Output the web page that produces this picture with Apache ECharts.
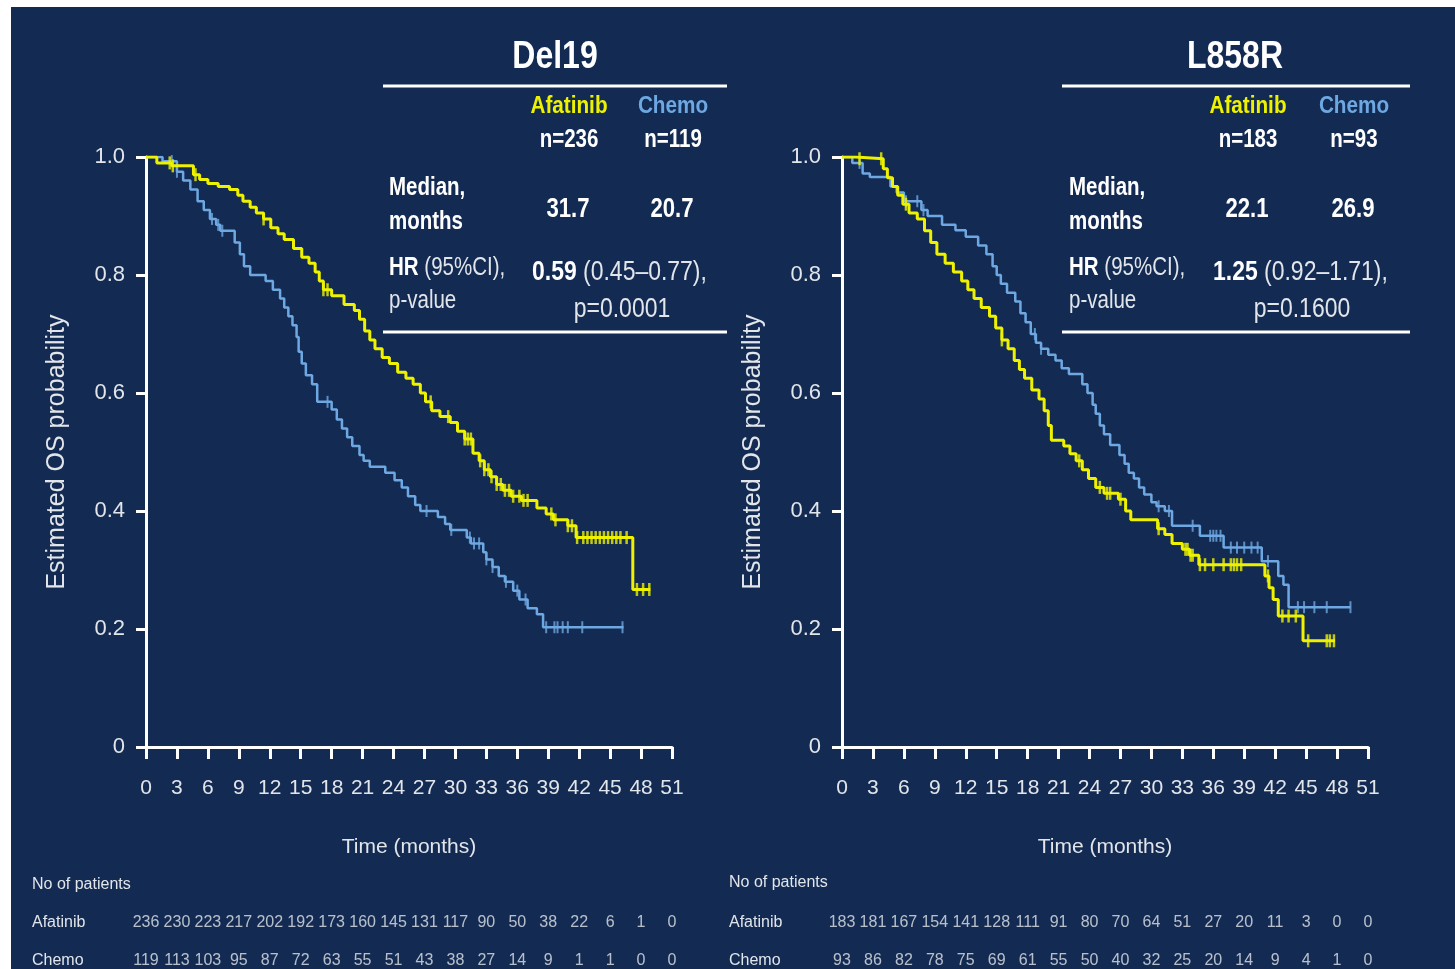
<!DOCTYPE html>
<html>
<head>
<meta charset="utf-8">
<script src="https://cdn.jsdelivr.net/npm/echarts@6/dist/echarts.min.js"></script>
<style>
  html, body { margin: 0; padding: 0; background: #ffffff; }
  #panel { position: absolute; left: 11px; top: 7px; right: 0; bottom: 0; background: #132b53; }
  #chart { position: absolute; left: 0; top: 0; width: 1455px; height: 969px; }
</style>
</head>
<body>
<div id="panel"></div>
<div id="chart"></div>
<script>
// ---- Kaplan-Meier estimates: [month, survival after the drop] ----
const del19Afatinib = [
  [0,1.0],[1.05,0.99],[2.5,0.985],[4.6,0.97],[5.2,0.962],[6.0,0.955],[7.0,0.95],[8.1,0.945],
  [8.9,0.935],[9.4,0.925],[10.1,0.915],[10.7,0.905],[11.4,0.895],[12.1,0.88],[12.8,0.87],
  [13.4,0.86],[14.3,0.845],[15.1,0.83],[15.8,0.82],[16.4,0.805],[16.8,0.79],[17.2,0.775],
  [18.0,0.765],[19.2,0.75],[20.2,0.74],[20.7,0.725],[21.2,0.705],[21.7,0.69],[22.2,0.675],
  [22.9,0.66],[23.6,0.65],[24.4,0.635],[25.2,0.625],[25.9,0.615],[26.6,0.6],[27.1,0.585],
  [27.7,0.57],[28.5,0.56],[29.5,0.55],[30.2,0.535],[30.9,0.522],[31.7,0.498],[32.3,0.485],
  [32.8,0.47],[33.4,0.458],[34.0,0.445],[34.6,0.435],[35.4,0.425],[36.4,0.418],[37.9,0.405],
  [38.8,0.395],[39.5,0.385],[40.9,0.375],[41.7,0.355],[47.2,0.267],[48.9,0.267]
];
const del19AfatinibCensored = [2.3,2.6,4.8,11.4,17.2,17.6,27.6,29.3,30.9,31.2,31.5,32.4,32.8,33.2,
  33.5,34.0,34.4,34.8,35.2,35.6,36.2,36.6,37.0,39.3,39.7,40.9,41.3,41.8,42.4,42.8,43.2,43.6,
  44.0,44.4,44.8,45.2,45.6,46.0,46.6,47.6,48.2,48.8];

const del19Chemo = [
  [0,1.0],[1.6,0.993],[3.0,0.975],[3.6,0.96],[4.3,0.945],[5.0,0.925],[5.6,0.91],[6.2,0.895],
  [6.8,0.885],[7.2,0.875],[8.6,0.855],[9.1,0.835],[9.5,0.815],[10.1,0.8],[11.6,0.79],[12.3,0.775],
  [13.0,0.76],[13.4,0.745],[13.8,0.73],[14.2,0.715],[14.6,0.695],[14.8,0.67],[15.1,0.65],
  [15.5,0.63],[16.1,0.615],[16.6,0.585],[18.0,0.572],[18.5,0.555],[19.0,0.54],[19.5,0.525],
  [20.0,0.51],[20.7,0.495],[21.1,0.485],[21.7,0.475],[23.2,0.465],[24.1,0.452],[24.8,0.44],
  [25.4,0.425],[26.1,0.41],[26.6,0.4],[28.3,0.39],[29.0,0.378],[29.5,0.368],[31.1,0.355],
  [31.5,0.345],[32.7,0.33],[33.0,0.318],[33.6,0.305],[34.2,0.29],[34.8,0.28],[35.6,0.265],
  [36.2,0.25],[37.0,0.235],[37.9,0.225],[38.5,0.203],[46.3,0.203]
];
const del19ChemoCensored = [2.5,3.0,6.4,7.0,7.4,17.6,27.2,29.6,31.4,31.8,32.3,33.0,33.6,34.9,
  36.0,36.8,38.8,39.6,39.9,40.4,40.9,42.3,46.2];

const l858rAfatinib = [
  [0,1.0],[1.3,0.997],[4.0,0.98],[4.4,0.965],[4.9,0.95],[5.4,0.935],[5.9,0.92],[6.5,0.905],
  [7.3,0.895],[8.0,0.875],[8.6,0.855],[9.2,0.835],[10.0,0.82],[10.8,0.805],[11.6,0.79],[12.2,0.775],
  [12.8,0.76],[13.5,0.745],[14.3,0.73],[14.9,0.71],[15.5,0.69],[16.1,0.675],[16.7,0.655],
  [17.2,0.64],[17.7,0.625],[18.4,0.605],[19.1,0.59],[19.6,0.57],[20.0,0.545],[20.3,0.52],
  [21.5,0.51],[22.1,0.497],[22.7,0.485],[23.3,0.47],[23.9,0.455],[24.6,0.44],[25.4,0.43],
  [26.8,0.42],[27.5,0.4],[28.0,0.385],[30.6,0.37],[31.3,0.36],[32.0,0.345],[33.0,0.335],
  [33.7,0.325],[34.6,0.309],[41.0,0.29],[41.4,0.27],[41.8,0.25],[42.3,0.222],[44.7,0.18],[47.8,0.18]
];
const l858rAfatinibCensored = [1.7,3.8,6.2,15.5,23.0,25.0,25.7,26.0,27.0,30.7,33.3,33.5,33.8,
  34.0,34.7,35.2,36.0,37.0,37.7,38.0,38.3,38.7,41.3,42.7,43.3,44.0,45.2,47.0,47.3,47.7];

const l858rChemo = [
  [0,1.0],[1.0,0.99],[2.0,0.972],[2.7,0.966],[4.7,0.95],[5.3,0.94],[6.0,0.925],[7.7,0.91],
  [8.3,0.9],[9.7,0.885],[11.0,0.876],[12.0,0.865],[13.2,0.85],[14.0,0.835],[14.6,0.815],
  [15.0,0.8],[15.4,0.785],[16.0,0.77],[16.8,0.755],[17.3,0.735],[17.8,0.72],[18.3,0.7],
  [18.8,0.685],[19.3,0.675],[20.0,0.665],[20.7,0.655],[21.3,0.642],[22.0,0.632],[23.3,0.615],
  [23.8,0.6],[24.3,0.58],[24.6,0.565],[25.0,0.545],[25.4,0.53],[26.0,0.512],[26.9,0.495],
  [27.4,0.48],[27.8,0.465],[28.3,0.455],[28.8,0.44],[29.3,0.428],[30.0,0.415],[30.5,0.408],
  [31.3,0.4],[32.0,0.375],[34.7,0.358],[37.0,0.338],[40.7,0.315],[42.3,0.29],[42.8,0.275],
  [43.3,0.237],[49.3,0.237]
];
const l858rChemoCensored = [1.7,6.2,7.3,7.9,18.7,19.3,30.7,31.7,34.0,35.7,36.0,36.3,36.7,37.7,
  38.3,39.0,39.7,40.3,41.3,44.2,44.8,45.8,47.0,49.3];

// ---- Numbers at risk every 3 months ----
const riskMonths = [0,3,6,9,12,15,18,21,24,27,30,33,36,39,42,45,48,51];
const del19AfatinibAtRisk = [236,230,223,217,202,192,173,160,145,131,117,90,50,38,22,6,1,0];
const del19ChemoAtRisk    = [119,113,103,95,87,72,63,55,51,43,38,27,14,9,1,1,0,0];
const l858rAfatinibAtRisk = [183,181,167,154,141,128,111,91,80,70,64,51,27,20,11,3,0,0];
const l858rChemoAtRisk    = [93,86,82,78,75,69,61,55,50,40,32,25,20,14,9,4,1,0];

// ---- Summary table ----
const subgroupTitles = ['Del19', 'L858R'];
const armLabels = ['Afatinib', 'Chemo'];
const armSizes = [['n=236', 'n=119'], ['n=183', 'n=93']];
const medianMonths = [['31.7', '20.7'], ['22.1', '26.9']];
const hazardRatios = ['0.59', '1.25'];
const hazardCIs = ['(0.45–0.77),', '(0.92–1.71),'];
const pValues = ['p=0.0001', 'p=0.1600'];

// ---- Styling ----
const YELLOW = '#eef200';
const BLUE = '#6ea8e2';
const WHITE = '#ffffff';
const LIGHT = '#e2e5ea';
const SANS = "'Liberation Sans', Arial, sans-serif";
const NARROW_SCALE = 0.82;   // horizontal squeeze that gives the table its condensed look

function survivalAt(curve, t) {
  let s = curve[0][1];
  for (const [ti, si] of curve) { if (ti <= t) s = si; else break; }
  return s;
}
function censorPoints(curve, times) {
  return times.map(t => [t, survivalAt(curve, t)]);
}

const chart = echarts.init(document.getElementById('chart'), null, { renderer: 'canvas' });

const plotGrids = [
  { left: 146, top: 157, width: 526, height: 590 },
  { left: 842, top: 157, width: 526, height: 590 },
  { left: 146, top: 923, width: 526, height: 38 },
  { left: 842, top: 923, width: 526, height: 38 }
];

function kmXAxis(gridIndex) {
  return {
    gridIndex, type: 'value', min: 0, max: 51, interval: 3,
    axisLine: { show: true, onZero: false, lineStyle: { color: WHITE, width: 3 } },
    axisTick: { show: true, length: 12, lineStyle: { color: WHITE, width: 3 } },
    splitLine: { show: false },
    axisLabel: { color: LIGHT, fontSize: 21, fontFamily: SANS, margin: 31 },
    name: 'Time (months)', nameLocation: 'middle', nameGap: 90,
    nameTextStyle: { color: LIGHT, fontSize: 21, fontFamily: SANS }
  };
}
function kmYAxis(gridIndex) {
  return {
    gridIndex, type: 'value', min: 0, max: 1, interval: 0.2,
    axisLine: { show: true, lineStyle: { color: WHITE, width: 3 } },
    axisTick: { show: true, length: 10, lineStyle: { color: WHITE, width: 3 } },
    splitLine: { show: false },
    axisLabel: {
      color: LIGHT, fontSize: 22, fontFamily: SANS, margin: 21,
      formatter: v => (v === 0 ? '0' : v.toFixed(1))
    },
    name: 'Estimated OS probability', nameLocation: 'middle', nameGap: 76, nameRotate: 90,
    nameTextStyle: { color: LIGHT, fontSize: 25, fontFamily: SANS }
  };
}
function riskXAxis(gridIndex) {
  return { gridIndex, type: 'value', min: 0, max: 51, show: false };
}
function riskYAxis(gridIndex, margin) {
  return {
    gridIndex, type: 'category', data: ['Chemo', 'Afatinib'], boundaryGap: false,
    axisLine: { show: false }, axisTick: { show: false }, splitLine: { show: false },
    axisLabel: { color: LIGHT, fontSize: 16, fontFamily: SANS, align: 'left', margin }
  };
}

function kmLine(idx, data, color, width, z) {
  return {
    type: 'line', xAxisIndex: idx, yAxisIndex: idx, step: 'end', data,
    showSymbol: false, silent: true, z,
    lineStyle: { color, width }
  };
}
function censorMarks(idx, curve, times, color, w, h, z) {
  return {
    type: 'scatter', xAxisIndex: idx, yAxisIndex: idx, data: censorPoints(curve, times),
    symbol: 'rect', symbolSize: [w, h], silent: true, z,
    itemStyle: { color }
  };
}
function riskRow(idx, counts, rowName) {
  return {
    type: 'scatter', xAxisIndex: idx, yAxisIndex: idx, symbolSize: 0.1, silent: true,
    data: riskMonths.map((m, i) => [m, rowName, counts[i]]),
    label: {
      show: true, position: 'inside', color: LIGHT, fontSize: 16, fontFamily: SANS,
      formatter: p => String(p.value[2])
    }
  };
}

// Summary table text for each subgroup
const tableLayouts = [
  { cx: 555, x1: 383, x2: 727, colA: 569, colC: 673, labelX: 389, hrX: 532, pX: 622, nopX: 32, nopY: 885 },
  { cx: 1235, x1: 1062, x2: 1410, colA: 1248, colC: 1354, labelX: 1069, hrX: 1213, pX: 1302, nopX: 729, nopY: 883 }
];
function txt(x, y, text, font, fill, align, sx) {
  return { type: 'text', x, y, scaleX: sx === undefined ? NARROW_SCALE : sx, silent: true,
    style: { text, font, fill, align: align || 'center', verticalAlign: 'middle' } };
}
function richTxt(x, y, bold, rest, size) {
  return { type: 'text', x, y, scaleX: NARROW_SCALE, silent: true, style: {
    text: '{b|' + bold + '}{r| ' + rest + '}', fill: WHITE, align: 'left', verticalAlign: 'middle',
    rich: {
      b: { font: 'bold ' + size + 'px ' + SANS, fill: WHITE },
      r: { font: size + 'px ' + SANS, fill: LIGHT }
    } } };
}
function tableGraphics(i) {
  const L = tableLayouts[i];
  const bold25 = 'bold 25px ' + SANS;
  return [
    txt(L.cx, 57, subgroupTitles[i], 'bold 39px ' + SANS, WHITE),
    { type: 'line', silent: true, shape: { x1: L.x1, y1: 86, x2: L.x2, y2: 86 }, style: { stroke: WHITE, lineWidth: 3 } },
    txt(L.colA, 107, armLabels[0], 'bold 23px ' + SANS, YELLOW, 'center', 0.9),
    txt(L.colC, 107, armLabels[1], 'bold 23px ' + SANS, BLUE, 'center', 0.9),
    txt(L.colA, 140, armSizes[i][0], bold25, WHITE),
    txt(L.colC, 140, armSizes[i][1], bold25, WHITE),
    txt(L.labelX, 188, 'Median,', bold25, WHITE, 'left'),
    txt(L.labelX, 222, 'months', bold25, WHITE, 'left'),
    txt(L.colA - 1, 210, medianMonths[i][0], 'bold 27px ' + SANS, WHITE),
    txt(L.colC - 1, 210, medianMonths[i][1], 'bold 27px ' + SANS, WHITE),
    richTxt(L.labelX, 268, 'HR', '(95%CI),', 25),
    txt(L.labelX, 301, 'p-value', '25px ' + SANS, LIGHT, 'left'),
    richTxt(L.hrX, 272, hazardRatios[i], hazardCIs[i], 28),
    txt(L.pX, 309, pValues[i], '28px ' + SANS, LIGHT),
    { type: 'line', silent: true, shape: { x1: L.x1, y1: 332, x2: L.x2, y2: 332 }, style: { stroke: WHITE, lineWidth: 3 } },
    txt(L.nopX, L.nopY, 'No of patients', '16px ' + SANS, LIGHT, 'left', 1)
  ];
}

chart.setOption({
  backgroundColor: 'transparent',
  animation: false,
  grid: plotGrids,
  xAxis: [kmXAxis(0), kmXAxis(1), riskXAxis(2), riskXAxis(3)],
  yAxis: [kmYAxis(0), kmYAxis(1), riskYAxis(2, 114), riskYAxis(3, 113)],
  series: [
    kmLine(0, del19Chemo, BLUE, 2.5, 2),
    censorMarks(0, del19Chemo, del19ChemoCensored, BLUE, 2, 12, 2),
    kmLine(0, del19Afatinib, YELLOW, 3, 3),
    censorMarks(0, del19Afatinib, del19AfatinibCensored, YELLOW, 2.5, 13, 3),
    kmLine(1, l858rChemo, BLUE, 2.5, 2),
    censorMarks(1, l858rChemo, l858rChemoCensored, BLUE, 2, 12, 2),
    kmLine(1, l858rAfatinib, YELLOW, 3, 3),
    censorMarks(1, l858rAfatinib, l858rAfatinibCensored, YELLOW, 2.5, 13, 3),
    riskRow(2, del19AfatinibAtRisk, 'Afatinib'),
    riskRow(2, del19ChemoAtRisk, 'Chemo'),
    riskRow(3, l858rAfatinibAtRisk, 'Afatinib'),
    riskRow(3, l858rChemoAtRisk, 'Chemo')
  ],
  graphic: { elements: tableGraphics(0).concat(tableGraphics(1)) }
});
</script>
</body>
</html>
